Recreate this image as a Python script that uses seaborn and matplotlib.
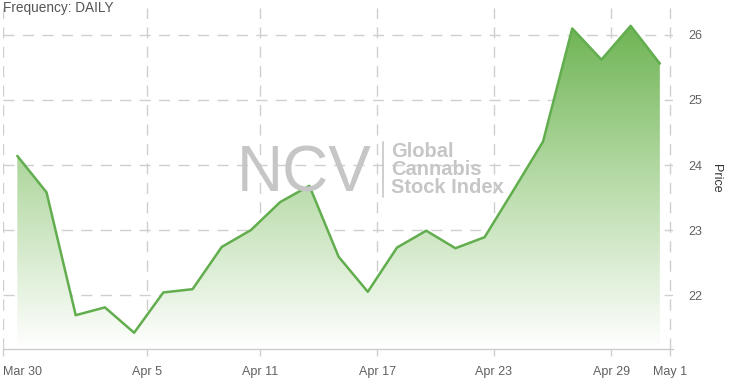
import numpy as np
import pandas as pd
import matplotlib
matplotlib.use("Agg")
import matplotlib.pyplot as plt
import seaborn as sns
from matplotlib.colors import LinearSegmentedColormap

# ---- data (trading days, Mar 30 - Apr 30) ----
dates = ["Mar 30", "Mar 31", "Apr 1", "Apr 2", "Apr 3", "Apr 6", "Apr 7", "Apr 8",
         "Apr 9", "Apr 13", "Apr 14", "Apr 15", "Apr 16", "Apr 17", "Apr 20", "Apr 21",
         "Apr 22", "Apr 23", "Apr 24", "Apr 27", "Apr 28", "Apr 29", "Apr 30"]
prices = [24.14, 23.58, 21.69, 21.81, 21.42, 22.04, 22.09, 22.74, 23.00, 23.43, 23.68,
          22.59, 22.05, 22.73, 22.99, 22.72, 22.89, 23.62, 24.36, 26.10, 25.62, 26.14, 25.56]
tick_labels = ["Mar 30", "Apr 5", "Apr 11", "Apr 17", "Apr 23", "Apr 29", "May 1"]
tick_pos = [-0.49, 4.44, 8.31, 12.32, 16.32, 20.33, 22.35]
y_ticks = [22, 23, 24, 25, 26]

df = pd.DataFrame({"idx": np.arange(len(prices)), "date": dates, "price": prices})

sns.set_theme(style="white")
plt.rcParams["font.family"] = ["Liberation Sans", "DejaVu Sans"]

fig = plt.figure(figsize=(7.32, 3.84), dpi=100)
W, H = 732, 384
ax = fig.add_axes([3 / W, 35 / H, 670 / W, 341 / H])

xmin, xmax = -0.49, 22.45
ymin, ymax = 21.17, 26.415
ax.set_xlim(xmin, xmax)
ax.set_ylim(ymin, ymax)

# gradient fill under the line
poly = ax.fill_between(df["idx"], df["price"], ymin, color="none", lw=0)
cmap = LinearSegmentedColormap.from_list("g", ["#ffffff", "#b9dcaa", "#6db352"])
grad = np.linspace(0, 1, 256).reshape(-1, 1)
im = ax.imshow(grad, extent=[xmin, xmax, ymin, 26.2], origin="lower", aspect="auto",
               cmap=cmap, zorder=1, vmin=0, vmax=1)
path = poly.get_paths()[0]
im.set_clip_path(path, transform=ax.transData)

sns.lineplot(data=df, x="idx", y="price", ax=ax, color="#62ad4e", lw=1.8, zorder=3)

# grid
for yt in y_ticks:
    ax.axhline(yt, color="#cfcfcf", lw=1, ls=(0, (8, 6)), zorder=0.5)
for xt in tick_pos:
    ax.axvline(xt, color="#cfcfcf", lw=1, ls=(0, (8, 6)), zorder=0.5)

ax.set_xticks(tick_pos)
ax.set_xticklabels(tick_labels)
ax.set_yticks(y_ticks)
ax.set_yticklabels([str(v) for v in y_ticks])
ax.yaxis.tick_right()
ax.yaxis.set_label_position("right")
ax.tick_params(axis="x", colors="#cfcfcf", labelcolor="#606060", labelsize=9,
               length=5, width=1, pad=7, direction="out", bottom=True)
ax.tick_params(axis="y", labelcolor="#606060", labelsize=9, length=0, pad=11)
labs = ax.get_xticklabels()
labs[0].set_ha("left")

for s in ["top", "left", "right"]:
    ax.spines[s].set_visible(False)
ax.spines["bottom"].set_color("#cccccc")
ax.spines["bottom"].set_linewidth(1)

ax.set_xlabel("")
ax.set_ylabel("Price", rotation=270, fontsize=9, color="#333333", labelpad=14)

# header
fig.text(3 / W, 1 - 8 / H, "Frequency: DAILY", fontsize=9.8, color="#555555",
         ha="left", va="center")

# watermark
fig.text(237 / W, 1 - 192 / H, "NCV", fontsize=46, color="#c6c6c6",
         ha="left", va="baseline", zorder=5)
fig.add_artist(plt.Line2D([383 / W, 383 / W], [1 - 142 / H, 1 - 197 / H],
                          color="#c6c6c6", lw=1.2, transform=fig.transFigure))
for i, t in enumerate(["Global", "Cannabis", "Stock Index"]):
    fig.text(391 / W, 1 - (157 + 18 * i) / H, t, fontsize=14.5, color="#c6c6c6",
             fontweight="bold", ha="left", va="baseline", zorder=5)

fig.savefig("out.png", dpi=100)
